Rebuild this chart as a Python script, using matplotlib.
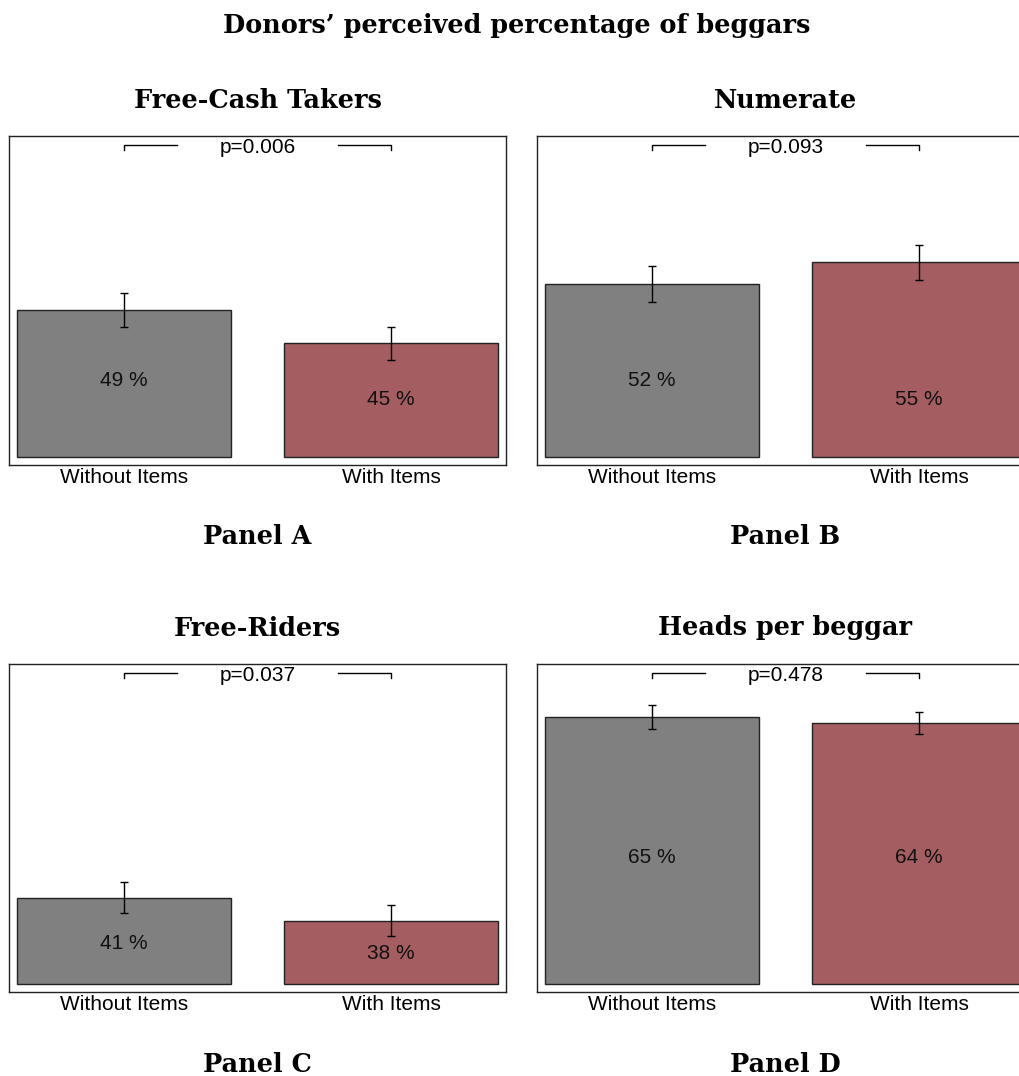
import matplotlib.pyplot as plt

# Data (mean, half-width of the error bar), in percent
groups = ["Without Items", "With Items"]
titles = ["Free-Cash Takers", "Numerate", "Free-Riders", "Heads per beggar"]
panels = ["Panel A", "Panel B", "Panel C", "Panel D"]
means = [[49.0, 44.6], [52.4, 55.3], [41.0, 37.9], [65.0, 64.2]]
errors = [[2.25, 2.2], [2.4, 2.3], [2.1, 2.05], [1.6, 1.5]]
pvalues = ["0.006", "0.093", "0.037", "0.478"]

colors = ["#808080", "#a45e62"]
base = 29.5
# where the value labels sit inside the bars (value axis)
label_y = [[39.7, 37.1], [39.7, 37.1], [34.9, 33.5], [46.3, 46.3]]

W, H = 1020, 1076
fig = plt.figure(figsize=(W / 100, H / 100), dpi=100)
sans = "Liberation Sans"
serif = "DejaVu Serif"

# axes frames in pixels: left, top, right, bottom
boxes = [(9, 136, 506, 465), (537, 136, 1034, 465),
         (9, 664, 506, 992), (537, 664, 1034, 992)]

for i in range(4):
    l, t, r, b = boxes[i]
    ax = fig.add_axes([l / W, 1 - b / H, (r - l) / W, (b - t) / H])
    x = [0, 1]
    heights = [m - base for m in means[i]]
    ax.bar(x, heights, bottom=base, width=0.8, color=colors,
           edgecolor="#222222", linewidth=1)
    ax.errorbar(x, means[i], yerr=errors[i], fmt="none", ecolor="black",
                elinewidth=1, capsize=3, capthick=1)
    for j in range(2):
        ax.text(x[j], label_y[i][j], f"{round(means[i][j])} %", ha="center",
                va="center", fontsize=15, family=sans, color="#111111")
    # p-value bracket
    yb = 70.9
    ax.plot([0, 0, 0.2], [yb - 0.7, yb, yb], color="black", lw=1)
    ax.plot([0.8, 1, 1], [yb, yb, yb - 0.7], color="black", lw=1)
    ax.text(0.5, yb - 0.3, "p=" + pvalues[i], ha="center", va="center",
            fontsize=15, family=sans)
    ax.set_xlim(-0.43, 1.43)
    ax.set_ylim(28.44, 72.07)
    ax.set_xticks(x)
    ax.set_xticklabels(groups, fontsize=15, family=sans)
    ax.tick_params(axis="x", length=0, pad=2)
    ax.set_yticks([])
    for s in ax.spines.values():
        s.set_linewidth(1)
        s.set_color("#222222")

    cx = (l + r) / 2 / W
    fig.text(cx, 1 - (t - 36) / H, titles[i], ha="center", va="center",
             fontsize=18.4, fontweight="bold", family=serif)
    fig.text(cx, 1 - (b + 72) / H, panels[i], ha="center", va="center",
             fontsize=18.4, fontweight="bold", family=serif)

fig.text(0.507, 1 - 26 / H, "Donors\u2019 perceived percentage of beggars",
         ha="center", va="center", fontsize=18.4, fontweight="bold", family=serif)

fig.savefig("out.png", dpi=100)
